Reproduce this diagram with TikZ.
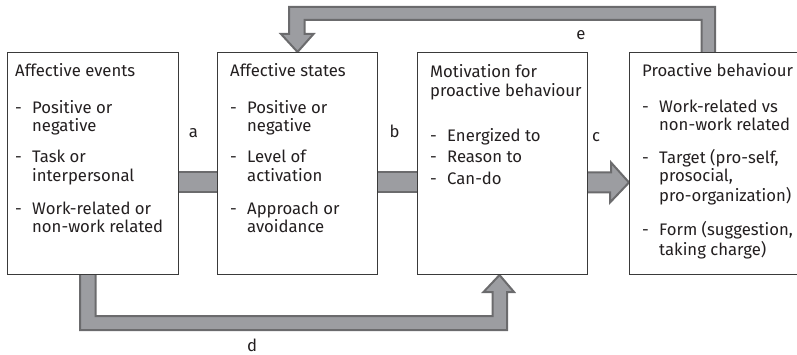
\documentclass[tikz,border=0pt]{standalone}
\usepackage{fontspec}
\setmainfont{Fira Sans}
\usepackage{array}
\usetikzlibrary{calc,backgrounds}

\definecolor{arrowfill}{HTML}{9C9DA1}
\definecolor{arrowline}{HTML}{6B6B6D}
\definecolor{boxline}{HTML}{3A3A3A}
\definecolor{inkcol}{HTML}{231F20}

% list layout: a title row, then items hung behind a dash
\newcommand\boxlist[1]{%
  \begin{tabular}[t]{@{}p{17pt}@{}l@{}}#1\end{tabular}}
\newcommand\boxtitle[1]{\multicolumn{2}{@{}l@{}}{#1}}

\begin{document}
\begin{tikzpicture}[x=1pt,y=-1pt,
    every node/.style={text=inkcol, font=\fontsize{16.7}{18}\selectfont},
    panel/.style={draw=boxline, line width=1pt, fill=white,
      anchor=north west, inner sep=0pt, minimum height=222pt},
    listtext/.style={anchor=base west, inner sep=0pt},
    fat/.style={fill=arrowfill, draw=arrowline, line width=2pt,
      line join=miter},
    tag/.style={anchor=base, inner sep=0pt}]
\useasboundingbox (0,0) rectangle (797,355);

% ---- the four boxes ----
\node[panel, minimum width=170.5pt] (ev) at (7,52) {};
\node[panel, minimum width=160pt] (st) at (217,52) {};
\node[panel, minimum width=170pt] (mo) at (417,52) {};
\node[panel, minimum width=172pt] (pr) at (629,52) {};

% ---- box contents ----
\node[listtext] (evtxt) at (15,77) {\boxlist{%
  \boxtitle{Affective events}\\[18pt]
  -&Positive or\\
   &negative\\[13pt]
  -&Task or\\
   &interpersonal\\[15pt]
  -&Work-related or\\
   &non-work related}};

\node[listtext] (sttxt) at (230,77) {\boxlist{%
  \boxtitle{Affective states}\\[18pt]
  -&Positive or\\
   &negative\\[13pt]
  -&Level of\\
   &activation\\[15pt]
  -&Approach or\\
   &avoidance}};

\node[listtext] (motxt) at (430,78) {\boxlist{%
  \boxtitle{Motivation for}\\
  \boxtitle{proactive behaviour}\\[27pt]
  -&Energized to\\[3pt]
  -&Reason to\\[4pt]
  -&Can-do}};

\node[listtext] (prtxt) at (642,77) {\boxlist{%
  \boxtitle{Proactive behaviour}\\[18pt]
  -&Work-related vs\\
   &non-work related\\[13pt]
  -&Target (pro-self,\\
   &prosocial,\\
   &pro-organization)\\[15pt]
  -&Form (suggestion,\\
   &taking charge)}};

% ---- connectors, kept behind the boxes ----
\begin{scope}[on background layer]
  % a and b: straight bars
  \draw[fat] ([xshift=-3pt,yshift=-9pt]ev.east)
    rectangle ([xshift=3pt,yshift=-29pt]st.west);
  \draw[fat] ([xshift=-3pt,yshift=-9pt]st.east)
    rectangle ([xshift=3pt,yshift=-29pt]mo.west);
  % c: bar with head into the last box
  \draw[fat] ([xshift=-3pt,yshift=-9pt]mo.east) -- ++(26,0) -- ++(0,-10)
    -- ([yshift=-19pt]pr.west) -- ++(-19,20) -- ++(0,-10)
    -- ([xshift=-3pt,yshift=-29pt]mo.east) -- cycle;
  % e: feedback loop over the top
  \draw[fat] ([xshift=86pt,yshift=-3pt]pr.north west) -- ++(0,-48)
    -- ++(-426,0) -- ++(0,27) -- ++(-8,0) -- (st.north)
    -- ++(16,-18) -- ++(-9,0) -- ++(0,-14) -- ++(397,0)
    -- ++(0,35) -- cycle;
  % d: route under the boxes
  \draw[fat] ([xshift=73pt,yshift=3pt]ev.south west) -- ++(0,58)
    -- ++(427,0) -- ++(0,-38) -- ++(7,0) -- ([xshift=-3pt]mo.south)
    -- ++(-16,17) -- ++(9,0) -- ++(0,24) -- ++(-397,0)
    -- ++(0,-44) -- cycle;
\end{scope}

% ---- connector labels ----
\node[tag] (la) at (193.5,138) {a};
\node[tag] (lb) at (394.5,138) {b};
\node[tag] (lc) at (596,142) {c};
\node[tag] (le) at (581,40) {e};
\node[tag] (ld) at (252,351) {d};

\end{tikzpicture}
\end{document}
